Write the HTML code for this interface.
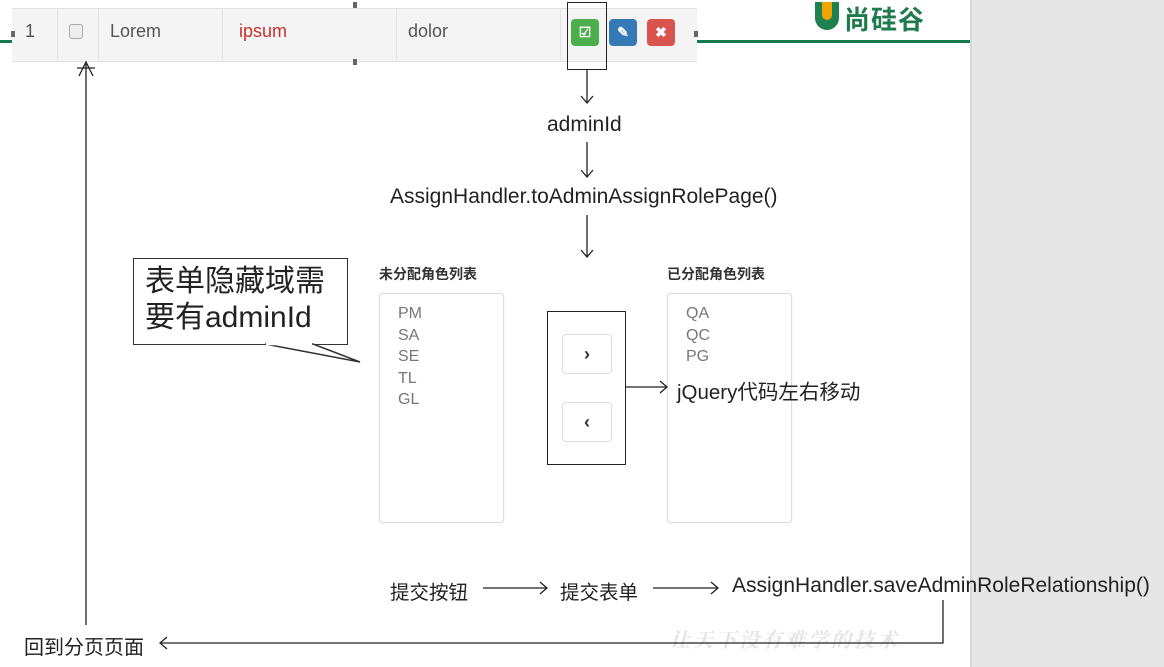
<!DOCTYPE html>
<html><head><meta charset="utf-8">
<style>
body{margin:0;width:1164px;height:667px;background:#fff;position:relative;overflow:hidden;font-family:"Liberation Sans","Noto Sans CJK SC",sans-serif;color:#222}
.a{position:absolute;white-space:nowrap}
.gray{position:absolute;left:970px;top:0;width:194px;height:667px;background:#e6e6e6;border-left:2px solid #d8d8d8}
.row{position:absolute;left:12px;top:8px;width:685px;height:52px;background:#f4f4f4;border-top:1px solid #e2e2e2;border-bottom:1px solid #e2e2e2}
.vd{position:absolute;top:8px;width:1px;height:52px;background:#e2e2e2}
.cell{position:absolute;top:21px;font-size:18px;color:#555}
.btn{position:absolute;top:19px;width:28px;height:27px;border-radius:4px;color:#fff;font-size:14px;text-align:center;line-height:27px;font-weight:bold}
.list{position:absolute;border:1px solid #ddd;border-radius:4px;background:#fff;box-shadow:0 0 2px #eee}
.li{font-size:16px;color:#777;line-height:21.5px;padding-left:18px}
.mb{position:absolute;left:562px;width:48px;height:38px;border:1px solid #ddd;border-radius:4px;background:#fff;text-align:center;line-height:38px;font-size:18px;font-weight:bold;color:#333}
.t{font-size:21px;color:#222}
</style></head><body>
<div class="gray"></div>
<div class="a" style="left:0;top:40px;width:12px;height:3px;background:#167a4e"></div>
<div class="a" style="left:697px;top:40px;width:273px;height:3px;background:#167a4e"></div>
<div class="a" style="left:815px;top:2px;width:24px;height:28px;border-radius:0 0 14px 14px;background:#1f8050"></div>
<div class="a" style="left:822px;top:2px;width:10px;height:18px;border-radius:0 0 5px 5px;background:#f0a500"></div>
<div class="a" style="left:844px;top:0px;font-size:26px;color:#1f7a4d;font-weight:bold;letter-spacing:1px">尚硅谷</div>

<div class="row"></div>
<div class="vd" style="left:57px"></div><div class="vd" style="left:98px"></div><div class="vd" style="left:222px"></div><div class="vd" style="left:396px"></div><div class="vd" style="left:560px"></div>
<div class="a" style="left:11px;top:31px;width:4px;height:6px;background:#666"></div>
<div class="a" style="left:353px;top:2px;width:4px;height:6px;background:#666"></div>
<div class="a" style="left:353px;top:59px;width:4px;height:6px;background:#666"></div>
<div class="a" style="left:694px;top:31px;width:4px;height:6px;background:#666"></div>
<div class="cell" style="left:25px">1</div>
<div class="a" style="left:69px;top:24px;width:12px;height:13px;border:1px solid #aaa;border-radius:3px;background:#eee"></div>
<div class="cell" style="left:110px">Lorem</div>
<div class="cell" style="left:239px;color:#c9302c">ipsum</div>
<div class="cell" style="left:408px">dolor</div>
<div class="btn" style="left:571px;background:#4cae4c">☑</div>
<div class="btn" style="left:609px;background:#337ab7">✎</div>
<div class="btn" style="left:647px;background:#d9534f">✖</div>
<div class="a" style="left:567px;top:2px;width:38px;height:66px;border:1.5px solid #222"></div>

<div class="a t" style="left:547px;top:113px">adminId</div>
<div class="a t" style="left:390px;top:185px">AssignHandler.toAdminAssignRolePage()</div>

<div class="a" style="left:379px;top:264px;font-size:14px;font-weight:bold;color:#333">未分配角色列表</div>
<div class="a" style="left:667px;top:264px;font-size:14px;font-weight:bold;color:#333">已分配角色列表</div>
<div class="list" style="left:379px;top:293px;width:125px;height:230px;padding-top:9px;box-sizing:border-box">
<div class="li">PM</div><div class="li">SA</div><div class="li">SE</div><div class="li">TL</div><div class="li">GL</div></div>
<div class="list" style="left:667px;top:293px;width:125px;height:230px;padding-top:9px;box-sizing:border-box">
<div class="li">QA</div><div class="li">QC</div><div class="li">PG</div></div>
<div class="a" style="left:547px;top:311px;width:77px;height:152px;border:1.5px solid #222"></div>
<div class="mb" style="top:334px">›</div>
<div class="mb" style="top:402px">‹</div>
<div class="a" style="left:677px;top:375px;font-size:20.5px;color:#222">jQuery代码左右移动</div>

<div class="a" style="left:133px;top:258px;width:215px;height:87px;border:1.5px solid #333;background:#fff;box-sizing:border-box"></div>
<div class="a" style="left:145px;top:264px;font-size:30px;line-height:36px;color:#222">表单隐藏域需<br>要有adminId</div>

<div class="a" style="left:390px;top:576px;font-size:19.5px">提交按钮</div>
<div class="a" style="left:560px;top:576px;font-size:19.5px">提交表单</div>
<div class="a" style="left:732px;top:574px;font-size:21px">AssignHandler.saveAdminRoleRelationship()</div>
<div class="a" style="left:24px;top:631px;font-size:20px">回到分页页面</div>
<div class="a" style="left:670px;top:624px;font-size:20px;color:#e4e4e4;font-style:italic;font-weight:bold;letter-spacing:3px;font-family:'Noto Serif CJK SC',serif">让天下没有难学的技术</div>

<svg class="a" style="left:0;top:0" width="1164" height="667">
<g stroke="#222" stroke-width="1.3" fill="none">
<line x1="587" y1="70" x2="587" y2="103"/><polyline points="581,96 587,103 593,96"/>
<line x1="587" y1="142" x2="587" y2="177"/><polyline points="581,170 587,177 593,170"/>
<line x1="587" y1="215" x2="587" y2="257"/><polyline points="581,250 587,257 593,250"/>
<line x1="625" y1="387" x2="667" y2="387"/><polyline points="660,381 667,387 660,393"/>
<line x1="483" y1="588" x2="547" y2="588"/><polyline points="540,582 547,588 540,594"/>
<line x1="653" y1="588" x2="718" y2="588"/><polyline points="711,582 718,588 711,594"/>
<polyline points="943,600 943,643 160,643"/><polyline points="167,637 160,643 167,649"/>
<line x1="86" y1="625" x2="86" y2="62"/><polyline points="79,76 86,62 93,76"/><line x1="77" y1="68" x2="95" y2="68"/>
</g>
<polygon points="265,344 360,362 313,344" fill="#fff" stroke="#333" stroke-width="1.5"/>
<line x1="266" y1="344" x2="312" y2="344" stroke="#fff" stroke-width="2.5"/>
</svg>
</body></html>
